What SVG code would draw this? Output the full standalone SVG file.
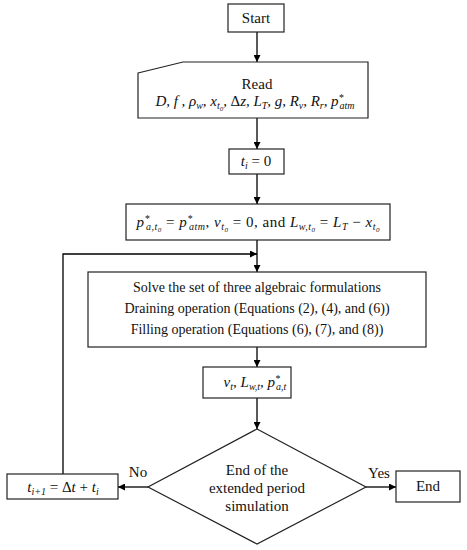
<svg xmlns="http://www.w3.org/2000/svg" width="467" height="550" viewBox="0 0 467 550">
<defs>
<marker id="ah" viewBox="0 0 10 10" refX="10" refY="5" markerWidth="7" markerHeight="7" markerUnits="userSpaceOnUse" orient="auto">
<path d="M0,0 L10,5 L0,10 z" fill="#000"/>
</marker>
<style>
.box{fill:#fff;stroke:#222;stroke-width:1.2}
.t{font-family:"Liberation Serif","Times New Roman",serif;font-size:14px;fill:#111;text-anchor:middle}
.b{font-size:15px}
.m{font-style:italic}
.s{font-size:10px}
.c{fill:none;stroke:#000;stroke-width:1.3}
</style>
</defs>
<rect width="467" height="550" fill="#fff"/>
<g id="connectors">
<line class="c" x1="257" y1="32" x2="257" y2="62" marker-end="url(#ah)"/>
<line class="c" x1="257" y1="118" x2="257" y2="149" marker-end="url(#ah)"/>
<line class="c" x1="257" y1="174" x2="257" y2="204" marker-end="url(#ah)"/>
<line class="c" x1="257" y1="240" x2="257" y2="272" marker-end="url(#ah)"/>
<line class="c" x1="257" y1="347" x2="257" y2="367" marker-end="url(#ah)"/>
<line class="c" x1="257" y1="398" x2="257" y2="429" marker-end="url(#ah)"/>
<line class="c" x1="148" y1="487" x2="118" y2="487" marker-end="url(#ah)"/>
<line class="c" x1="366" y1="487" x2="396" y2="487" marker-end="url(#ah)"/>
<polyline class="c" points="63,474 63,254 257,254" marker-end="url(#ah)"/>
<text class="t b" x="138" y="477">No</text>
<text class="t b" x="379" y="478">Yes</text>
</g>
<g id="start">
<rect class="box" x="228" y="4" width="56" height="28"/>
<text class="t b" x="256" y="23">Start</text>
</g>
<g id="read">
<polygon class="box" points="138,73 183,62 368,62 368,118 138,118"/>
<text class="t b" x="257" y="89">Read</text>
<text class="t b m" x="255" y="106" textLength="199" lengthAdjust="spacing">D, f , ρ<tspan class="s" baseline-shift="-3">w</tspan>, x<tspan class="s" baseline-shift="-3">t<tspan font-size="7px" baseline-shift="-2">0</tspan></tspan>, <tspan font-style="normal">Δ</tspan>z, L<tspan class="s" baseline-shift="-3">T</tspan>, g, R<tspan class="s" baseline-shift="-3">v</tspan>, R<tspan class="s" baseline-shift="-3">r</tspan>, p<tspan class="s" baseline-shift="5">*</tspan><tspan class="s" dx="-4" baseline-shift="-3">atm</tspan></text>
</g>
<g id="init-time">
<rect class="box" x="229" y="149" width="55" height="25"/>
<text class="t b" x="256" y="166"><tspan class="m">t<tspan class="s" baseline-shift="-3">i</tspan></tspan> = 0</text>
</g>
<g id="init-values">
<rect class="box" x="126" y="204" width="264" height="36"/>
<text class="t b" x="258" y="227" textLength="243" lengthAdjust="spacing"><tspan class="m">p<tspan class="s" baseline-shift="5">*</tspan><tspan class="s" dx="-4" baseline-shift="-3">a,t<tspan font-size="7px" baseline-shift="-2">0</tspan></tspan></tspan> = <tspan class="m">p<tspan class="s" baseline-shift="5">*</tspan><tspan class="s" dx="-4" baseline-shift="-3">atm</tspan></tspan>, <tspan class="m">v<tspan class="s" baseline-shift="-3">t<tspan font-size="7px" baseline-shift="-2">0</tspan></tspan></tspan> = 0, and <tspan class="m">L<tspan class="s" baseline-shift="-3">w,t<tspan font-size="7px" baseline-shift="-2">0</tspan></tspan></tspan> = <tspan class="m">L<tspan class="s" baseline-shift="-3">T</tspan></tspan> − <tspan class="m">x<tspan class="s" baseline-shift="-3">t<tspan font-size="7px" baseline-shift="-2">0</tspan></tspan></tspan></text>
</g>
<g id="solve">
<rect class="box" x="88" y="272" width="338" height="75"/>
<text class="t" x="257" y="292">Solve the set of three algebraic formulations</text>
<text class="t" x="257" y="313">Draining operation (Equations (2), (4), and (6))</text>
<text class="t" x="257" y="334">Filling operation (Equations (6), (7), and (8))</text>
</g>
<g id="result">
<rect class="box" x="203" y="367" width="88" height="31"/>
<text class="t b m" x="255" y="387">v<tspan class="s" baseline-shift="-3">t</tspan>, L<tspan class="s" baseline-shift="-3">w,t</tspan>, p<tspan class="s" baseline-shift="5">*</tspan><tspan class="s" dx="-4" baseline-shift="-3">a,t</tspan></text>
</g>
<g id="decision">
<polygon class="box" points="257,429 366,487 257,544 148,487"/>
<text class="t b" x="257" y="475">End of the</text>
<text class="t b" x="257" y="493">extended period</text>
<text class="t b" x="257" y="511">simulation</text>
</g>
<g id="increment">
<rect class="box" x="7" y="474" width="111" height="25"/>
<text class="t b" x="63" y="492"><tspan class="m">t<tspan class="s" baseline-shift="-3">i+1</tspan></tspan> = Δ<tspan class="m">t</tspan> + <tspan class="m">t<tspan class="s" baseline-shift="-3">i</tspan></tspan></text>
</g>
<g id="end">
<rect class="box" x="396" y="471" width="64" height="31"/>
<text class="t b" x="428" y="491">End</text>
</g>
</svg>
